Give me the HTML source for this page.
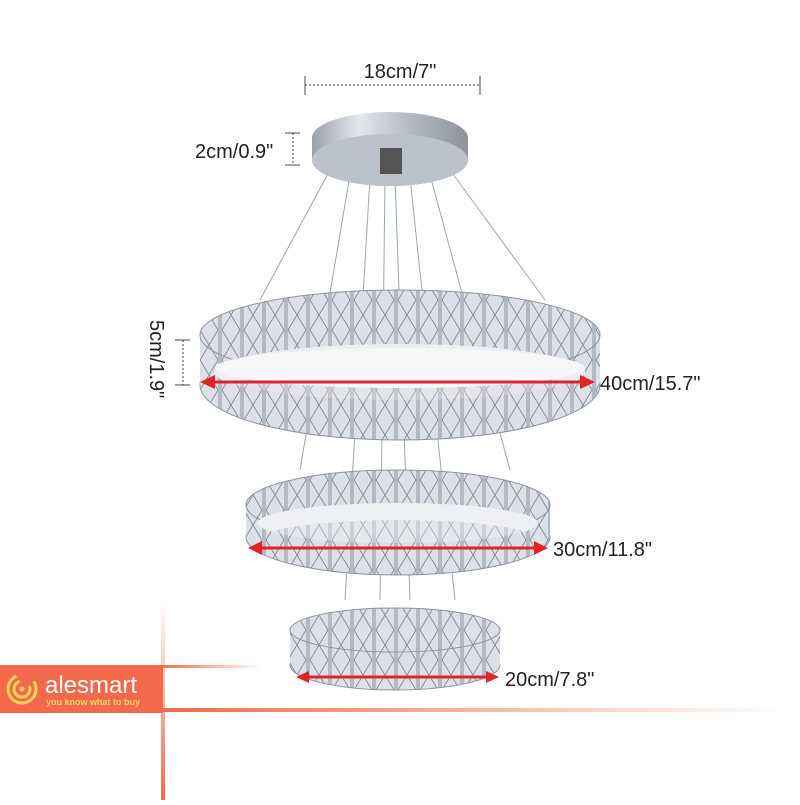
<!DOCTYPE html>
<html><head><style>
body{margin:0;background:#fff;width:800px;height:800px;overflow:hidden;font-family:"Liberation Sans",sans-serif}
</style></head><body>
<svg width="800" height="800" viewBox="0 0 800 800" xmlns="http://www.w3.org/2000/svg">
<defs>
<linearGradient id="cr" x1="0" y1="0" x2="1" y2="0">
<stop offset="0" stop-color="#9aa0a8"/><stop offset="0.3" stop-color="#e4e7ec"/><stop offset="0.6" stop-color="#b8bec6"/><stop offset="1" stop-color="#8d939b"/></linearGradient>
<pattern id="cry" width="22" height="60" patternUnits="userSpaceOnUse">
<rect width="22" height="60" fill="#b4bac3"/><rect x="2" y="0" width="18" height="60" fill="#dde1e7"/><path d="M2 0 L20 30 M20 0 L2 30 M2 30 L20 60 M20 30 L2 60" stroke="#8a919b" stroke-width="1"/></pattern>
<linearGradient id="fadeH" x1="0" x2="1"><stop offset="0" stop-color="#f06a4a"/><stop offset="1" stop-color="#f06a4a" stop-opacity="0"/></linearGradient>
<linearGradient id="fadeV" x1="0" y1="1" x2="0" y2="0"><stop offset="0" stop-color="#f06a4a"/><stop offset="1" stop-color="#f06a4a" stop-opacity="0"/></linearGradient>
</defs>
<line x1="305" y1="85" x2="480" y2="85" stroke="#444" stroke-dasharray="2,2"/>
<line x1="305" y1="76" x2="305" y2="95" stroke="#444"/><line x1="480" y1="76" x2="480" y2="95" stroke="#444"/>
<text x="400" y="78" font-size="20" text-anchor="middle" fill="#222">18cm/7"</text>
<line x1="293" y1="133" x2="293" y2="165" stroke="#444" stroke-dasharray="2,2"/>
<line x1="285" y1="133" x2="300" y2="133" stroke="#444"/><line x1="285" y1="165" x2="300" y2="165" stroke="#444"/>
<text x="195" y="158" font-size="20" fill="#222">2cm/0.9"</text>
<g stroke="#9aa" stroke-width="1">
<line x1="330" y1="170" x2="260" y2="300"/><line x1="450" y1="170" x2="545" y2="300"/>
<line x1="350" y1="175" x2="300" y2="470"/><line x1="430" y1="175" x2="510" y2="470"/>
<line x1="370" y1="178" x2="345" y2="600"/><line x1="410" y1="178" x2="455" y2="600"/>
<line x1="385" y1="178" x2="380" y2="600"/><line x1="395" y1="178" x2="410" y2="600"/>
</g>
<ellipse cx="390" cy="160" rx="78" ry="26" fill="#a6acb4"/>
<ellipse cx="390" cy="138" rx="78" ry="26" fill="url(#cr)"/>
<rect x="312" y="138" width="156" height="22" fill="url(#cr)"/>
<ellipse cx="390" cy="160" rx="78" ry="26" fill="#bcc2c9"/>
<rect x="380" y="148" width="22" height="26" fill="#555"/>
<!-- ring 1 -->
<ellipse cx="400" cy="385" rx="200" ry="55" fill="url(#cry)" stroke="#8c939c"/>
<rect x="200" y="335" width="400" height="50" fill="url(#cry)"/>
<ellipse cx="400" cy="335" rx="200" ry="45" fill="url(#cry)" stroke="#8c939c"/>
<ellipse cx="400" cy="372" rx="185" ry="28" fill="#eceef1"/>
<ellipse cx="400" cy="395" rx="185" ry="28" fill="url(#cry)" opacity="0.7"/>
<ellipse cx="400" cy="368" rx="185" ry="20" fill="#f7f7f8"/>
<!-- ring 2 -->
<ellipse cx="398" cy="537" rx="152" ry="38" fill="url(#cry)" stroke="#8c939c"/>
<rect x="246" y="505" width="304" height="32" fill="url(#cry)"/>
<ellipse cx="398" cy="505" rx="152" ry="35" fill="url(#cry)" stroke="#8c939c"/>
<ellipse cx="398" cy="523" rx="140" ry="20" fill="#eff0f3"/>
<ellipse cx="398" cy="540" rx="140" ry="20" fill="url(#cry)" opacity="0.6"/>
<!-- ring 3 -->
<ellipse cx="395" cy="665" rx="105" ry="25" fill="url(#cry)" stroke="#8c939c"/>
<rect x="290" y="630" width="210" height="35" fill="url(#cry)"/>
<ellipse cx="395" cy="630" rx="105" ry="22" fill="url(#cry)" stroke="#8c939c"/>
<g stroke="#e0252a" stroke-width="3" fill="#e0252a">
<line x1="210" y1="382" x2="585" y2="382"/><path d="M200 382 L215 375 L215 389Z" stroke="none"/><path d="M595 382 L580 375 L580 389Z" stroke="none"/>
<line x1="258" y1="548" x2="538" y2="548"/><path d="M248 548 L262 541 L262 555Z" stroke="none"/><path d="M548 548 L534 541 L534 555Z" stroke="none"/>
<line x1="305" y1="677" x2="490" y2="677"/><path d="M296 677 L309 671 L309 683Z" stroke="none"/><path d="M499 677 L486 671 L486 683Z" stroke="none"/>
</g>
<text x="600" y="390" font-size="20" fill="#222">40cm/15.7"</text>
<text x="553" y="556" font-size="20" fill="#222">30cm/11.8"</text>
<text x="505" y="686" font-size="20" fill="#222">20cm/7.8"</text>
<line x1="183" y1="340" x2="183" y2="385" stroke="#444" stroke-dasharray="2,2"/>
<line x1="175" y1="340" x2="190" y2="340" stroke="#444"/><line x1="175" y1="385" x2="190" y2="385" stroke="#444"/>
<text transform="translate(150,320) rotate(90)" font-size="20" fill="#222">5cm/1.9"</text>
<rect x="161" y="600" width="4" height="200" fill="url(#fadeV)"/>
<rect x="161" y="665" width="100" height="3" fill="url(#fadeH)"/>
<rect x="161" y="708" width="620" height="4" fill="url(#fadeH)"/>
<rect x="0" y="665" width="163" height="48" fill="#f26a4b"/>
<circle cx="22" cy="689" r="14" fill="none" stroke="#f7d55a" stroke-width="3" stroke-dasharray="60,20"/>
<circle cx="22" cy="689" r="8" fill="none" stroke="#f7d55a" stroke-width="3" stroke-dasharray="35,12"/>
<circle cx="22" cy="689" r="2.5" fill="#f7d55a"/>
<text x="45" y="693" font-size="24" fill="#fff">alesmart</text>
<text x="46" y="705" font-size="9" font-weight="bold" fill="#f7d55a">you know what to buy</text>
</svg>
</body></html>
